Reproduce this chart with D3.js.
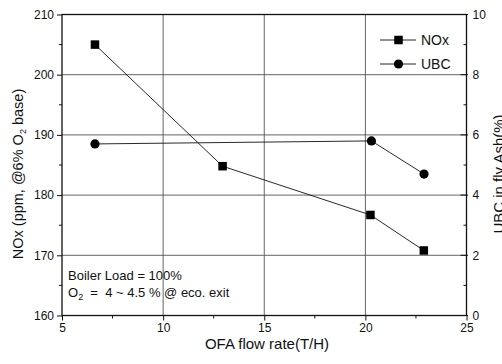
<!DOCTYPE html>
<html>
<head>
<meta charset="utf-8">
<script src="https://cdn.jsdelivr.net/npm/d3@7"></script>
<style>
  html, body { margin: 0; padding: 0; background: #fff; }
  svg { display: block; font-family: "Liberation Sans", Arial, Helvetica, sans-serif; }
</style>
</head>
<body>
<svg id="chart" width="502" height="364"></svg>
<script>
// ---- data ----
const noxFlow = [6.63, 12.94, 20.25, 22.89];
const noxValues = [205.0, 184.8, 176.7, 170.8];
const ubcFlow = [6.63, 20.3, 22.9];
const ubcValues = [5.7, 5.8, 4.7];
const xTicks = [5, 10, 15, 20, 25];
const xMinorTicks = [7.5, 12.5, 17.5, 22.5];
const yLeftTicks = [160, 170, 180, 190, 200, 210];
const yLeftMinor = [165, 175, 185, 195, 205];
const yRightTicks = [0, 2, 4, 6, 8, 10];
const yRightMinor = [1, 3, 5, 7, 9];
const legendItems = ["NOx", "UBC"];

const svg = d3.select("#chart");
const L = 62, R = 466.5, T = 14.5, B = 315.5;

const x = d3.scaleLinear().domain([5, 25]).range([L, R]);
const yL = d3.scaleLinear().domain([160, 210]).range([B, T]);
const yR = d3.scaleLinear().domain([0, 10]).range([B, T]);

const ink = "#111";
const gridCol = "#555";

// gridlines
const g = svg.append("g");
g.selectAll("line.gy").data(yLeftTicks.slice(1, -1)).join("line")
  .attr("x1", L).attr("x2", R)
  .attr("y1", d => yL(d)).attr("y2", d => yL(d))
  .attr("stroke", gridCol).attr("stroke-width", 0.9);
g.selectAll("line.gx").data(xTicks.slice(1, -1)).join("line")
  .attr("y1", T).attr("y2", B)
  .attr("x1", d => x(d)).attr("x2", d => x(d))
  .attr("stroke", gridCol).attr("stroke-width", 0.9);

// axes
const axL = d3.axisLeft(yL).tickValues(yLeftTicks).tickSize(5).tickPadding(3).tickFormat(d3.format("d"));
const axB = d3.axisBottom(x).tickValues(xTicks).tickSize(5).tickPadding(3).tickFormat(d3.format("d"));
const axR = d3.axisRight(yR).tickValues(yRightTicks).tickSize(0).tickPadding(6).tickFormat(d3.format("d"));

function style(sel) {
  sel.select(".domain").remove();
  sel.selectAll("line").attr("stroke", ink);
  sel.selectAll("text").attr("fill", ink).style("font-size", "12px")
     .style("font-family", "'Liberation Sans', Arial, sans-serif");
}
svg.append("g").attr("transform", `translate(${L},0)`).call(axL).call(style);
svg.append("g").attr("transform", `translate(0,${B})`).call(axB).call(style);
svg.append("g").attr("transform", `translate(${R},0)`).call(axR).call(style);

// minor ticks
svg.append("g").selectAll("line").data(yLeftMinor).join("line")
  .attr("x1", L - 3).attr("x2", L).attr("y1", d => yL(d)).attr("y2", d => yL(d))
  .attr("stroke", ink);
svg.append("g").selectAll("line").data(xMinorTicks).join("line")
  .attr("y1", B).attr("y2", B + 3).attr("x1", d => x(d)).attr("x2", d => x(d))
  .attr("stroke", ink);
svg.append("g").selectAll("line").data(yRightMinor).join("line")
  .attr("x1", R - 3).attr("x2", R).attr("y1", d => yR(d)).attr("y2", d => yR(d))
  .attr("stroke", ink);
svg.append("g").selectAll("line").data(yRightTicks).join("line")
  .attr("x1", R - 6).attr("x2", R + 1.5).attr("y1", d => yR(d)).attr("y2", d => yR(d))
  .attr("stroke", ink);

// frame
svg.append("rect").attr("x", L).attr("y", T).attr("width", R - L).attr("height", B - T)
  .attr("fill", "none").attr("stroke", ink).attr("stroke-width", 1.3);

// series lines
const noxPts = noxFlow.map((f, i) => [x(f), yL(noxValues[i])]);
const ubcPts = ubcFlow.map((f, i) => [x(f), yR(ubcValues[i])]);
const line = d3.line();
svg.append("path").attr("d", line(noxPts)).attr("fill", "none").attr("stroke", ink).attr("stroke-width", 0.9);
svg.append("path").attr("d", line(ubcPts)).attr("fill", "none").attr("stroke", ink).attr("stroke-width", 0.9);

const sq = 8.5, cr = 4.6;
svg.append("g").selectAll("rect").data(noxPts).join("rect")
  .attr("x", d => d[0] - sq / 2).attr("y", d => d[1] - sq / 2)
  .attr("width", sq).attr("height", sq).attr("fill", "#000");
svg.append("g").selectAll("circle").data(ubcPts).join("circle")
  .attr("cx", d => d[0]).attr("cy", d => d[1]).attr("r", cr).attr("fill", "#000");

// legend
const leg = svg.append("g");
legendItems.forEach((name, i) => {
  const ly = 40 + i * 24;
  leg.append("line").attr("x1", 380).attr("x2", 416).attr("y1", ly).attr("y2", ly)
    .attr("stroke", ink).attr("stroke-width", 0.9);
  if (i === 0) {
    leg.append("rect").attr("x", 398.5 - sq / 2).attr("y", ly - sq / 2).attr("width", sq).attr("height", sq).attr("fill", "#000");
  } else {
    leg.append("circle").attr("cx", 398.5).attr("cy", ly).attr("r", cr).attr("fill", "#000");
  }
  leg.append("text").attr("x", 421).attr("y", ly + 5).text(name)
    .style("font-size", "14px").attr("fill", ink);
});

// annotation
svg.append("text").attr("x", 68).attr("y", 280).style("font-size", "13px").attr("fill", ink)
  .text("Boiler Load = 100%");
const t2 = svg.append("text").attr("x", 68).attr("y", 297).style("font-size", "13px").attr("fill", ink)
  .attr("xml:space", "preserve");
t2.append("tspan").text("O");
t2.append("tspan").attr("dy", 3).style("font-size", "9px").text("2");
t2.append("tspan").attr("dy", -3).text("  =  4 ~ 4.5 % @ eco. exit");

// axis titles
svg.append("text").attr("x", 267).attr("y", 349).attr("text-anchor", "middle")
  .style("font-size", "15px").attr("fill", ink).text("OFA flow rate(T/H)");

const yt = svg.append("text").attr("transform", "translate(23,174) rotate(-90)")
  .attr("text-anchor", "middle").style("font-size", "14.5px").attr("fill", ink);
yt.append("tspan").text("NOx (ppm, @6% O");
yt.append("tspan").attr("dy", 3).style("font-size", "9px").text("2");
yt.append("tspan").attr("dy", -3).text(" base)");

svg.append("text").attr("transform", "translate(504,174) rotate(-90)")
  .attr("text-anchor", "middle").style("font-size", "15px").attr("fill", ink)
  .text("UBC in fly Ash(%)");
</script>
</body>
</html>
